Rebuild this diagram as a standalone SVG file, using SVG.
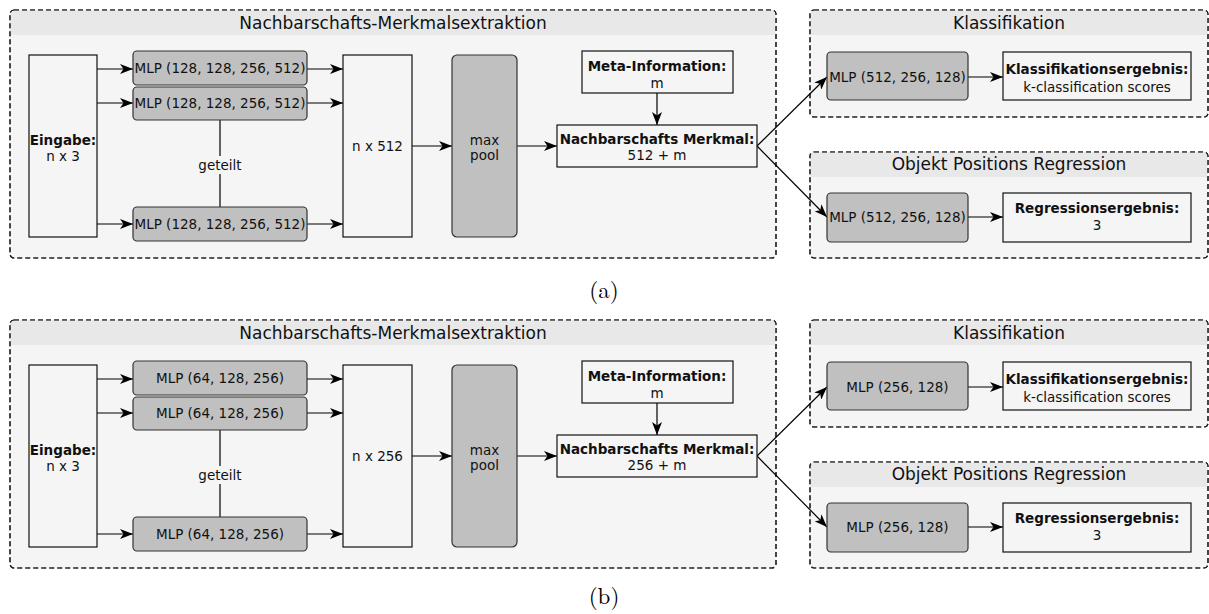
<svg xmlns="http://www.w3.org/2000/svg" width="1209" height="614" viewBox="0 0 1209 614">
  <defs>
    <marker id="arrow" viewBox="0 0 13 10" markerWidth="13" markerHeight="10" refX="13" refY="5" orient="auto" markerUnits="userSpaceOnUse">
      <path d="M0,0 L13,5 L0,10 L3.5,5 Z" fill="#000"/>
    </marker>
    <style>
      .group { fill: #f5f5f5; stroke: #222; stroke-width: 1.2; stroke-dasharray: 5 3; }
      .band { fill: #e8e8e8; }
      .plain { fill: #f5f5f5; stroke: #111; stroke-width: 1.2; }
      .mlp { fill: #c0c0c0; stroke: #333; stroke-width: 1.2; }
      .edge { stroke: #000; stroke-width: 1.2; fill: none; }
      .link { stroke: #000; stroke-width: 1.2; fill: none; marker-end: url(#arrow); }
      text { font-family: "DejaVu Sans", "Noto Sans", sans-serif; font-size: 13.5px; fill: #111; text-anchor: middle; }
      .b { font-weight: bold; }
      .title { font-size: 17px; }
      .caption { font-family: "Latin Modern Roman", "Liberation Serif", serif; font-size: 23px; fill: #000; }
    </style>
  </defs>

  <!-- ===== (a) ===== -->
  <g id="panel-a">
    <g id="a-extraction">
      <rect class="group" x="10" y="10" width="766" height="248" rx="4"/>
      <path class="band" d="M10.6,14 a3.4,3.4 0 0 1 3.4,-3.4 h758 a3.4,3.4 0 0 1 3.4,3.4 v21 h-764.8 z"/>
      <rect class="group" x="10" y="10" width="766" height="248" rx="4" style="fill:none"/>
      <text class="title" x="393" y="29">Nachbarschafts-Merkmalsextraktion</text>
    </g>
    <g id="a-klass">
      <rect class="group" x="810" y="10" width="398" height="107" rx="4"/>
      <path class="band" d="M810.6,14 a3.4,3.4 0 0 1 3.4,-3.4 h390 a3.4,3.4 0 0 1 3.4,3.4 v21 h-396.8 z"/>
      <rect class="group" x="810" y="10" width="398" height="107" rx="4" style="fill:none"/>
      <text class="title" x="1009" y="29">Klassifikation</text>
    </g>
    <g id="a-regr">
      <rect class="group" x="810" y="152" width="398" height="106" rx="4"/>
      <path class="band" d="M810.6,156 a3.4,3.4 0 0 1 3.4,-3.4 h390 a3.4,3.4 0 0 1 3.4,3.4 v21 h-396.8 z"/>
      <rect class="group" x="810" y="152" width="398" height="106" rx="4" style="fill:none"/>
      <text class="title" x="1009" y="170">Objekt Positions Regression</text>
    </g>

    <g id="a-connectors">
      <line class="link" x1="97" y1="69" x2="133" y2="69"/>
      <line class="link" x1="97" y1="103" x2="133" y2="103"/>
      <line class="link" x1="97" y1="224" x2="133" y2="224"/>
      <line class="link" x1="307" y1="69" x2="343" y2="69"/>
      <line class="link" x1="307" y1="103" x2="343" y2="103"/>
      <line class="link" x1="307" y1="224" x2="343" y2="224"/>
      <line class="edge" x1="220" y1="120" x2="220" y2="156"/>
      <line class="edge" x1="220" y1="174" x2="220" y2="207"/>
      <line class="link" x1="412" y1="146" x2="452" y2="146"/>
      <line class="link" x1="517" y1="146" x2="557" y2="146"/>
      <line class="link" x1="657" y1="93" x2="657" y2="125"/>
      <line class="link" x1="757" y1="146" x2="827" y2="77"/>
      <line class="link" x1="757" y1="146" x2="827" y2="217"/>
      <line class="link" x1="968" y1="77" x2="1003" y2="77"/>
      <line class="link" x1="968" y1="217" x2="1003" y2="217"/>
    </g>
    <text x="220" y="170">geteilt</text>

    <g id="a-input">
      <rect class="plain" x="29" y="55" width="68" height="182"/>
      <text class="b" x="63" y="145">Eingabe:</text>
      <text x="63" y="161">n x 3</text>
    </g>
    <g id="a-mlp1">
      <rect class="mlp" x="133" y="51" width="174" height="34" rx="4"/>
      <text x="220" y="73">MLP (128, 128, 256, 512)</text>
    </g>
    <g id="a-mlp2">
      <rect class="mlp" x="133" y="87" width="174" height="33" rx="4"/>
      <text x="220" y="108">MLP (128, 128, 256, 512)</text>
    </g>
    <g id="a-mlp3">
      <rect class="mlp" x="133" y="207" width="174" height="34" rx="4"/>
      <text x="220" y="229">MLP (128, 128, 256, 512)</text>
    </g>
    <g id="a-features">
      <rect class="plain" x="343" y="55" width="69" height="182"/>
      <text x="377.5" y="151">n x 512</text>
    </g>
    <g id="a-maxpool">
      <rect class="mlp" x="452" y="55" width="65" height="182" rx="5"/>
      <text x="484.5" y="145">max</text>
      <text x="484.5" y="160">pool</text>
    </g>
    <g id="a-meta">
      <rect class="plain" x="582" y="51" width="151" height="42"/>
      <text class="b" x="657" y="71">Meta-Information:</text>
      <text x="657" y="88">m</text>
    </g>
    <g id="a-neighbour">
      <rect class="plain" x="557" y="125" width="200" height="42"/>
      <text class="b" x="657" y="144">Nachbarschafts Merkmal:</text>
      <text x="657" y="160">512 + m</text>
    </g>
    <g id="a-cls-mlp">
      <rect class="mlp" x="827" y="52" width="141" height="48" rx="4"/>
      <text x="897.5" y="82">MLP (512, 256, 128)</text>
    </g>
    <g id="a-cls-out">
      <rect class="plain" x="1003" y="52" width="188" height="48"/>
      <text class="b" x="1097" y="74">Klassifikationsergebnis:</text>
      <text x="1097" y="92">k-classification scores</text>
    </g>
    <g id="a-reg-mlp">
      <rect class="mlp" x="827" y="193" width="141" height="49" rx="4"/>
      <text x="897.5" y="222">MLP (512, 256, 128)</text>
    </g>
    <g id="a-reg-out">
      <rect class="plain" x="1003" y="193" width="188" height="49"/>
      <text class="b" x="1097" y="213">Regressionsergebnis:</text>
      <text x="1097" y="230">3</text>
    </g>
    <text class="caption" x="604" y="298">(a)</text>
  </g>

  <!-- ===== (b) ===== -->
  <g id="panel-b" transform="translate(0,310)">
    <g id="b-extraction">
      <rect class="group" x="10" y="10" width="766" height="248" rx="4"/>
      <path class="band" d="M10.6,14 a3.4,3.4 0 0 1 3.4,-3.4 h758 a3.4,3.4 0 0 1 3.4,3.4 v21 h-764.8 z"/>
      <rect class="group" x="10" y="10" width="766" height="248" rx="4" style="fill:none"/>
      <text class="title" x="393" y="29">Nachbarschafts-Merkmalsextraktion</text>
    </g>
    <g id="b-klass">
      <rect class="group" x="810" y="10" width="398" height="107" rx="4"/>
      <path class="band" d="M810.6,14 a3.4,3.4 0 0 1 3.4,-3.4 h390 a3.4,3.4 0 0 1 3.4,3.4 v21 h-396.8 z"/>
      <rect class="group" x="810" y="10" width="398" height="107" rx="4" style="fill:none"/>
      <text class="title" x="1009" y="29">Klassifikation</text>
    </g>
    <g id="b-regr">
      <rect class="group" x="810" y="152" width="398" height="106" rx="4"/>
      <path class="band" d="M810.6,156 a3.4,3.4 0 0 1 3.4,-3.4 h390 a3.4,3.4 0 0 1 3.4,3.4 v21 h-396.8 z"/>
      <rect class="group" x="810" y="152" width="398" height="106" rx="4" style="fill:none"/>
      <text class="title" x="1009" y="170">Objekt Positions Regression</text>
    </g>

    <g id="b-connectors">
      <line class="link" x1="97" y1="69" x2="133" y2="69"/>
      <line class="link" x1="97" y1="103" x2="133" y2="103"/>
      <line class="link" x1="97" y1="224" x2="133" y2="224"/>
      <line class="link" x1="307" y1="69" x2="343" y2="69"/>
      <line class="link" x1="307" y1="103" x2="343" y2="103"/>
      <line class="link" x1="307" y1="224" x2="343" y2="224"/>
      <line class="edge" x1="220" y1="120" x2="220" y2="156"/>
      <line class="edge" x1="220" y1="174" x2="220" y2="207"/>
      <line class="link" x1="412" y1="146" x2="452" y2="146"/>
      <line class="link" x1="517" y1="146" x2="557" y2="146"/>
      <line class="link" x1="657" y1="93" x2="657" y2="125"/>
      <line class="link" x1="757" y1="146" x2="827" y2="77"/>
      <line class="link" x1="757" y1="146" x2="827" y2="217"/>
      <line class="link" x1="968" y1="77" x2="1003" y2="77"/>
      <line class="link" x1="968" y1="217" x2="1003" y2="217"/>
    </g>
    <text x="220" y="170">geteilt</text>

    <g id="b-input">
      <rect class="plain" x="29" y="55" width="68" height="182"/>
      <text class="b" x="63" y="145">Eingabe:</text>
      <text x="63" y="161">n x 3</text>
    </g>
    <g id="b-mlp1">
      <rect class="mlp" x="133" y="51" width="174" height="34" rx="4"/>
      <text x="220" y="73">MLP (64, 128, 256)</text>
    </g>
    <g id="b-mlp2">
      <rect class="mlp" x="133" y="87" width="174" height="33" rx="4"/>
      <text x="220" y="108">MLP (64, 128, 256)</text>
    </g>
    <g id="b-mlp3">
      <rect class="mlp" x="133" y="207" width="174" height="34" rx="4"/>
      <text x="220" y="229">MLP (64, 128, 256)</text>
    </g>
    <g id="b-features">
      <rect class="plain" x="343" y="55" width="69" height="182"/>
      <text x="377.5" y="151">n x 256</text>
    </g>
    <g id="b-maxpool">
      <rect class="mlp" x="452" y="55" width="65" height="182" rx="5"/>
      <text x="484.5" y="145">max</text>
      <text x="484.5" y="160">pool</text>
    </g>
    <g id="b-meta">
      <rect class="plain" x="582" y="51" width="151" height="42"/>
      <text class="b" x="657" y="71">Meta-Information:</text>
      <text x="657" y="88">m</text>
    </g>
    <g id="b-neighbour">
      <rect class="plain" x="557" y="125" width="200" height="42"/>
      <text class="b" x="657" y="144">Nachbarschafts Merkmal:</text>
      <text x="657" y="160">256 + m</text>
    </g>
    <g id="b-cls-mlp">
      <rect class="mlp" x="827" y="52" width="141" height="48" rx="4"/>
      <text x="897.5" y="82">MLP (256, 128)</text>
    </g>
    <g id="b-cls-out">
      <rect class="plain" x="1003" y="52" width="188" height="48"/>
      <text class="b" x="1097" y="74">Klassifikationsergebnis:</text>
      <text x="1097" y="92">k-classification scores</text>
    </g>
    <g id="b-reg-mlp">
      <rect class="mlp" x="827" y="193" width="141" height="49" rx="4"/>
      <text x="897.5" y="222">MLP (256, 128)</text>
    </g>
    <g id="b-reg-out">
      <rect class="plain" x="1003" y="193" width="188" height="49"/>
      <text class="b" x="1097" y="213">Regressionsergebnis:</text>
      <text x="1097" y="230">3</text>
    </g>
    <text class="caption" x="604" y="294">(b)</text>
  </g>
</svg>
